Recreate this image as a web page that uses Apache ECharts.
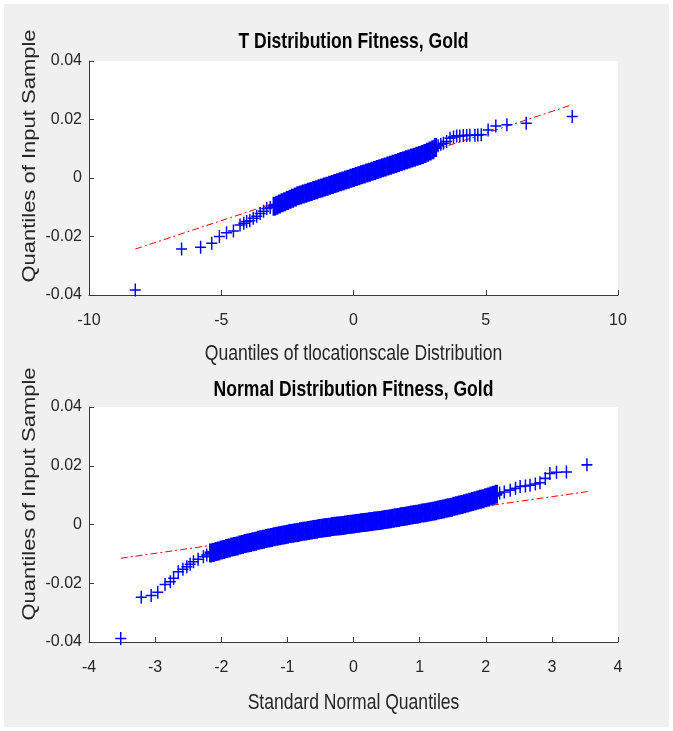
<!DOCTYPE html>
<html lang="en">
  <head>
    <meta charset="utf-8" />
    <title>Gold fitness QQ plots</title>
    <script src="https://cdn.jsdelivr.net/npm/echarts@6/dist/echarts.min.js"></script>
    <style>
      body { margin: 0; background: #fff; }
      #main { position: absolute; left: 4px; top: 4px; width: 665px; height: 723px; background: #f0f0f0; }
    </style>
  </head>
  <body>
    <div id="main"></div>
    <script type="text/javascript">
      // top panel: quantiles of t location-scale vs sample quantiles
      const tLowX = [-8.25, -6.50, -5.78, -5.36, -5.07, -4.80, -4.54, -4.29, -4.15, -4.04, -3.92, -3.79, -3.66, -3.53, -3.40, -3.28, -3.15];
      const tLowY = [-0.0383, -0.0243, -0.0237, -0.0223, -0.0200, -0.0187, -0.0181, -0.0161, -0.0155, -0.0149, -0.0146, -0.0138, -0.0131, -0.0121, -0.0114, -0.0104, -0.0101];
      const tMidX = [
        -3.0, -2.9, -2.8, -2.7, -2.6, -2.5, -2.4, -2.3, -2.2, -2.1, -2.0, -1.9, -1.8, -1.7, -1.6, -1.5, -1.4, -1.3, -1.2, -1.1,
        -1.0, -0.9, -0.8, -0.7, -0.6, -0.5, -0.4, -0.3, -0.2, -0.1, 0.0, 0.1, 0.2, 0.3, 0.4, 0.5, 0.6, 0.7, 0.8, 0.9,
        1.0, 1.1, 1.2, 1.3, 1.4, 1.5, 1.6, 1.7, 1.8, 1.9, 2.0, 2.1, 2.2, 2.3, 2.4, 2.5, 2.6, 2.7, 2.8, 2.9, 3.0, 3.1
      ];
      const tMidY = [
        -0.0097, -0.0093, -0.0089, -0.0085, -0.0081, -0.0077, -0.0073, -0.0069, -0.0065, -0.0061, -0.0058, -0.0055, -0.0052, -0.0049, -0.0046, -0.0043, -0.0040, -0.0037, -0.0034, -0.0031,
        -0.0028, -0.0025, -0.0022, -0.0019, -0.0016, -0.0013, -0.0010, -0.0007, -0.0004, -0.0001, 0.0002, 0.0005, 0.0008, 0.0011, 0.0014, 0.0017, 0.0020, 0.0023, 0.0026, 0.0029,
        0.0032, 0.0035, 0.0038, 0.0041, 0.0044, 0.0047, 0.0050, 0.0053, 0.0056, 0.0059, 0.0062, 0.0065, 0.0068, 0.0071, 0.0074, 0.0077, 0.0080, 0.0084, 0.0088, 0.0092, 0.0097, 0.0104
      ];
      const tHighX = [3.20, 3.30, 3.40, 3.52, 3.65, 3.78, 3.90, 4.02, 4.15, 4.28, 4.40, 4.59, 4.70, 4.83, 5.09, 5.38, 5.80, 6.53, 8.27];
      const tHighY = [0.0110, 0.0115, 0.0119, 0.0125, 0.0136, 0.0140, 0.0144, 0.0144, 0.0145, 0.0145, 0.0146, 0.0146, 0.0147, 0.0148, 0.0164, 0.0178, 0.0182, 0.0187, 0.0210];
      const tFitX = [-8.25, 8.25];
      const tFitY = [-0.0243, 0.0250];

      // bottom panel: standard normal quantiles vs sample quantiles
      const nLowX = [-3.52, -3.21, -3.06, -2.96, -2.85, -2.77, -2.72, -2.65, -2.58, -2.52, -2.47, -2.42, -2.35, -2.27, -2.22];
      const nLowY = [-0.0388, -0.0248, -0.0242, -0.0231, -0.0204, -0.0195, -0.0183, -0.0161, -0.0152, -0.0144, -0.0135, -0.0127, -0.0118, -0.0110, -0.0104];
      const nMidX = [
        -2.16, -2.12, -2.08, -2.04, -2.00, -1.96, -1.92, -1.88, -1.84, -1.80, -1.76, -1.72, -1.68, -1.64, -1.60,
        -1.56, -1.52, -1.48, -1.44, -1.40, -1.36, -1.32, -1.28, -1.24, -1.20, -1.16, -1.12, -1.08, -1.04, -1.00,
        -0.96, -0.92, -0.88, -0.84, -0.80, -0.76, -0.72, -0.68, -0.64, -0.60, -0.56, -0.52, -0.48, -0.44, -0.40,
        -0.36, -0.32, -0.28, -0.24, -0.20, -0.16, -0.12, -0.08, -0.04, 0.00, 0.04, 0.08, 0.12, 0.16, 0.20,
        0.24, 0.28, 0.32, 0.36, 0.40, 0.44, 0.48, 0.52, 0.56, 0.60, 0.64, 0.68, 0.72, 0.76, 0.80,
        0.84, 0.88, 0.92, 0.96, 1.00, 1.04, 1.08, 1.12, 1.16, 1.20, 1.24, 1.28, 1.32, 1.36, 1.40,
        1.44, 1.48, 1.52, 1.56, 1.60, 1.64, 1.68, 1.72, 1.76, 1.80, 1.84, 1.88, 1.92, 1.96, 2.00,
        2.04, 2.08, 2.12, 2.16
      ];
      const nMidY = [
        -0.0097, -0.0095, -0.0092, -0.0090, -0.0087, -0.0085, -0.0082, -0.0080, -0.0077, -0.0075, -0.0073, -0.0070, -0.0068, -0.0065, -0.0063,
        -0.0061, -0.0059, -0.0057, -0.0054, -0.0052, -0.0050, -0.0048, -0.0046, -0.0044, -0.0042, -0.0040, -0.0038, -0.0037, -0.0035, -0.0033,
        -0.0031, -0.0030, -0.0028, -0.0027, -0.0025, -0.0023, -0.0022, -0.0020, -0.0019, -0.0017, -0.0016, -0.0014, -0.0013, -0.0011, -0.0010,
        -0.0009, -0.0007, -0.0006, -0.0005, -0.0004, -0.0003, -0.0002, 0.0000, 0.0001, 0.0002, 0.0003, 0.0004, 0.0006, 0.0007, 0.0008,
        0.0009, 0.0010, 0.0012, 0.0013, 0.0014, 0.0015, 0.0017, 0.0018, 0.0020, 0.0021, 0.0023, 0.0024, 0.0026, 0.0027, 0.0029,
        0.0031, 0.0032, 0.0034, 0.0035, 0.0037, 0.0039, 0.0040, 0.0042, 0.0043, 0.0045, 0.0047, 0.0049, 0.0051, 0.0053, 0.0055,
        0.0057, 0.0059, 0.0062, 0.0064, 0.0066, 0.0068, 0.0071, 0.0073, 0.0076, 0.0078, 0.0081, 0.0083, 0.0086, 0.0088, 0.0091,
        0.0094, 0.0097, 0.0100, 0.0103
      ];
      const nHighX = [2.21, 2.28, 2.37, 2.45, 2.52, 2.60, 2.67, 2.75, 2.82, 2.90, 2.97, 3.07, 3.22, 3.53];
      const nHighY = [0.0107, 0.0111, 0.0117, 0.0123, 0.0129, 0.0131, 0.0134, 0.0138, 0.0142, 0.0157, 0.0174, 0.0178, 0.0179, 0.0203];
      const nFitX = [-3.52, 3.54];
      const nFitY = [-0.0115, 0.0112];

      const titles = ['T Distribution Fitness, Gold', 'Normal Distribution Fitness, Gold'];
      const xNames = ['Quantiles of tlocationscale Distribution', 'Standard Normal Quantiles'];
      const yName = 'Quantiles of Input Sample';

      const SANS = "'Liberation Sans', Arial, sans-serif";
      // plus markers, drawn as filled crosses: thin ones for the tails, wider arms where points pile up
      const PLUS = 'path://M5.2,0H6.8V5.3H12V6.7H6.8V12H5.2V6.7H0V5.3H5.2Z';
      const PLUS_DENSE = 'path://M4.4,0H7.6V5.05H12V6.95H7.6V12H4.4V6.95H0V5.05H4.4Z';
      const axisColor = '#3a3a3a';
      const textColor = '#262626';

      const zip = (xs, ys) => xs.map((x, i) => [x, ys[i]]);

      const myChart = echarts.init(document.getElementById('main'));

      const xAxisFor = (idx, min, max, interval) => ({
        type: 'value', gridIndex: idx, min: min, max: max, interval: interval,
        axisLine: { show: true, onZero: false, lineStyle: { color: axisColor, width: 1 } },
        axisTick: { show: true, inside: true, length: 5, lineStyle: { color: axisColor } },
        axisLabel: { fontFamily: SANS, fontSize: 16, color: textColor, margin: 18 },
        splitLine: { show: false }
      });

      const yAxisFor = (idx) => ({
        type: 'value', gridIndex: idx, min: -0.04, max: 0.04, interval: 0.02,
        axisLine: { show: true, onZero: false, lineStyle: { color: axisColor, width: 1 } },
        axisTick: { show: true, inside: true, length: 5, lineStyle: { color: axisColor } },
        axisLabel: {
          fontFamily: SANS, fontSize: 16, color: textColor, margin: 7,
          formatter: (v) => Math.abs(v) < 1e-9 ? '0' : v.toFixed(2)
        },
        splitLine: { show: false }
      });

      // matlab figure text looks squeezed sideways, so scale the horizontal texts
      const squeezed = (text, x, y, size, weight, color) => ({
        type: 'text', x: x, y: y, scaleX: 0.78,
        style: { text: text, font: weight + ' ' + size + 'px ' + SANS, fill: color,
                 align: 'center', verticalAlign: 'middle' }
      });
      const rotated = (text, x, y) => ({
        type: 'text', x: x, y: y, rotation: Math.PI / 2, scaleY: 0.85,
        style: { text: text, font: '22px ' + SANS, fill: textColor, align: 'center', verticalAlign: 'middle' }
      });

      const pluses = (idx, data, symbol, size) => ({
        type: 'scatter', xAxisIndex: idx, yAxisIndex: idx, data: data,
        symbol: symbol, symbolSize: size, itemStyle: { color: '#0000ff', opacity: 1 }, z: 2
      });
      const fitLine = (idx, data) => ({
        type: 'line', xAxisIndex: idx, yAxisIndex: idx, data: data, symbol: 'none', z: 1,
        lineStyle: { color: '#ff0000', width: 1, type: [7, 3, 2, 3] }
      });

      const option = {
        animation: false,
        graphic: [
          squeezed(titles[0], 349.5, 38, 22.5, 'bold', '#000'),
          squeezed(titles[1], 349.5, 386, 22.5, 'bold', '#000'),
          squeezed(xNames[0], 349.5, 350, 22.5, 'normal', textColor),
          squeezed(xNames[1], 349.5, 699, 22.5, 'normal', textColor),
          rotated(yName, 26, 152),
          rotated(yName, 26, 490)
        ],
        grid: [
          { left: 85, top: 57, width: 529, height: 234, show: true, backgroundColor: '#fff', borderWidth: 0 },
          { left: 85, top: 403, width: 529, height: 235, show: true, backgroundColor: '#fff', borderWidth: 0 }
        ],
        xAxis: [xAxisFor(0, -10, 10, 5), xAxisFor(1, -4, 4, 1)],
        yAxis: [yAxisFor(0), yAxisFor(1)],
        series: [
          fitLine(0, zip(tFitX, tFitY)),
          pluses(0, zip(tLowX.concat(tHighX), tLowY.concat(tHighY)), PLUS, [11, 13]),
          pluses(0, zip(tMidX, tMidY), PLUS_DENSE, [12, 19]),
          fitLine(1, zip(nFitX, nFitY)),
          pluses(1, zip(nLowX.concat(nHighX), nLowY.concat(nHighY)), PLUS, [11, 13]),
          pluses(1, zip(nMidX, nMidY), PLUS_DENSE, [12, 19])
        ]
      };
      myChart.setOption(option);
    </script>
  </body>
</html>
